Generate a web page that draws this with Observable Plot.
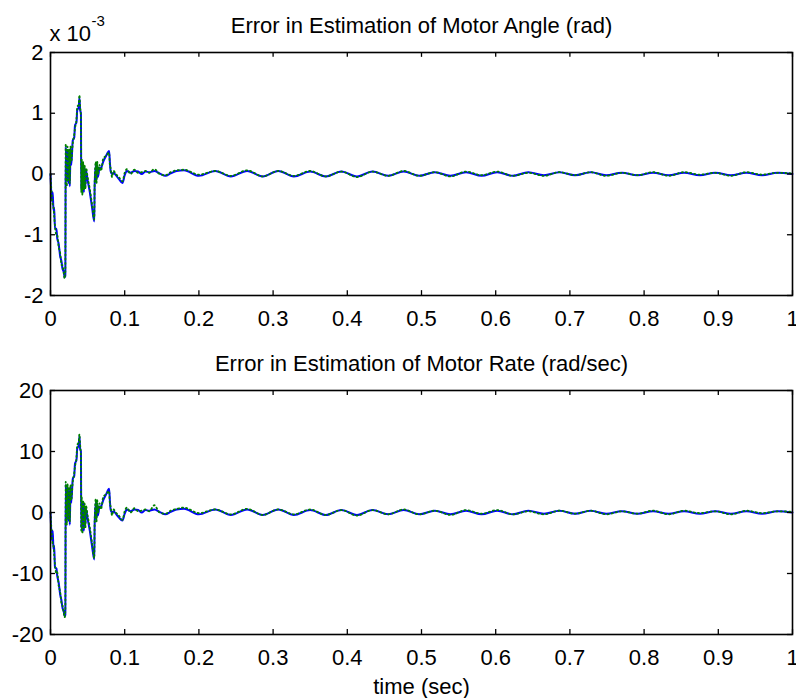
<!DOCTYPE html>
<html>
<head>
<meta charset="utf-8">
<script src="https://cdn.jsdelivr.net/npm/d3@7"></script>
<script src="https://cdn.jsdelivr.net/npm/@observablehq/plot@0.6"></script>
<style>
  html, body { margin: 0; padding: 0; background: #fff; }
  #chart svg { display: block; }
</style>
</head>
<body>
<div id="chart"></div>
<script>
// Shared time axis (sec)
const time = [
  0, .002, .003, .004, .005, .006, .008, .009, .011, .013,
  .015, .016, .018, .019, .020, .0205, .022, .023, .024, .025,
  .026, .027, .028, .030, .032, .033, .035, .036, .038, .039,
  .040, .041, .0415, .042, .043, .044, .045, .046, .047, .048,
  .050, .053, .056, .059, .0595, .061, .062, .063, .064, .066,
  .068, .071, .075, .079, .080, .081, .083, .085, .088, .092,
  .097, .100, .103, .108, .113, .118, .123, .128, .133, .140,
  .147, .155, .162, .170, .180, .200, .222, .243, .265, .286,
  .307, .328, .350, .371, .392, .413, .434, .455, .476, .497,
  .518, .539, .560, .581, .602, .623, .644, .665, .686, .707,
  .728, .749, .770, .791, .812, .833, .854, .875, .896, .917,
  .938, .959, .980, 1.000
];
// Motor angle error (x 10^-3 rad): blue solid and green dotted
const angleBlue = [
  0, -.45, -.30, -.60, -.55, -.90, -.90, -1.05, -1.15, -1.35,
  -1.45, -1.55, -1.62, -1.70, -1.68, .45, -.10, .40, -.15, .35,
  -.20, .40, .15, .55, .60, .80, .85, 1.05, 1.10, 1.25,
  1.05, 1.00, -.25, .20, -.30, .15, -.30, .10, -.20, .05,
  -.10, -.30, -.55, -.78, -.20, .15, -.10, .15, -.05, .10,
  .10, .20, .30, .38, .20, .05, 0, .02, -.02, -.08,
  -.15, -.02, .05, .02, .05, .04, 0, .04, .03, .05,
  .01, -.03, .01, .05, .06, -.03, .05, -.04, .05, -.04,
  .05, -.04, .04, -.04, .04, -.04, .04, -.03, .04, -.03,
  .03, -.03, .03, -.03, .03, -.03, .03, -.02, .03, -.02,
  .03, -.02, .02, -.02, .02, -.02, .02, -.02, .02, -.02,
  .02, -.02, .02, 0
];
const angleGreen = [
  0, -.40, -.50, -.55, -.70, -.85, -1.0, -1.0, -1.20, -1.30,
  -1.50, -1.50, -1.65, -1.72, -1.60, .50, -.20, .45, -.10, .40,
  -.15, .45, .20, .50, .65, .75, .90, 1.10, 1.15, 1.30,
  1.10, .95, -.30, .25, -.35, .20, -.25, .15, -.25, .10,
  -.05, -.25, -.50, -.75, -.15, .20, -.15, .20, 0, .15,
  .05, .25, .30, .35, .15, .10, -.05, .05, 0, -.05,
  -.12, .02, .08, 0, .07, .02, .03, .05, .02, .08,
  0, -.02, .03, .06, .07, -.01, .05, -.03, .06, -.04,
  .05, -.03, .05, -.04, .04, -.05, .04, -.03, .05, -.03,
  .03, -.04, .04, -.02, .04, -.03, .02, -.03, .03, -.02,
  .03, -.03, .02, -.02, .03, -.03, .03, -.01, .02, -.03,
  .03, -.01, .02, .01
];
// Motor rate error (rad/sec): blue solid and green dotted
const rateBlue = [
  0, -4.6, -3.0, -6.0, -5.4, -9.0, -9.2, -10.3, -11.5, -13.4,
  -14.6, -15.5, -16.3, -17.0, -16.8, 4.6, -1.2, 4.1, -1.4, 3.6,
  -2.0, 4.0, 1.6, 5.5, 6.0, 8.0, 8.6, 10.4, 11.0, 12.5,
  10.4, 10.0, -2.6, 2.0, -3.1, 1.6, -3.0, 1.0, -2.0, 0.5,
  -1.0, -3.0, -5.5, -7.7, -2.0, 1.6, -1.0, 1.5, -0.5, 1.0,
  1.0, 2.0, 3.0, 3.9, 2.0, 0.5, 0.0, 0.2, -0.2, -0.8,
  -1.3, -0.2, 0.5, 0.2, 0.5, 0.4, 0.0, 0.4, 0.3, 0.5,
  0.1, -0.3, 0.1, 0.5, 0.6, -0.3, 0.5, -0.4, 0.5, -0.4,
  0.5, -0.4, 0.4, -0.4, 0.4, -0.4, 0.4, -0.3, 0.4, -0.3,
  0.3, -0.3, 0.3, -0.3, 0.3, -0.3, 0.3, -0.2, 0.3, -0.2,
  0.3, -0.2, 0.2, -0.2, 0.2, -0.2, 0.2, -0.2, 0.2, -0.2,
  0.2, -0.2, 0.2, 0.0
];
const rateGreen = [
  0, -4.0, -5.2, -5.5, -7.0, -8.5, -10.0, -9.8, -12.0, -13.0,
  -15.0, -15.2, -16.6, -17.2, -16.0, 5.0, -2.0, 4.6, -1.0, 4.2,
  -1.5, 4.6, 2.0, 5.0, 6.5, 7.5, 9.0, 11.0, 11.6, 12.8,
  11.0, 9.5, -3.2, 2.5, -3.5, 2.0, -2.5, 1.5, -2.5, 1.0,
  -0.5, -2.5, -5.0, -7.5, -1.5, 2.2, -1.5, 2.0, 0.0, 1.5,
  0.5, 2.5, 3.0, 3.5, 1.5, 1.0, -0.5, 0.5, 0.0, -0.5,
  -1.2, 0.2, 0.8, 0.0, 0.7, 0.2, 0.3, 0.5, 0.2, 1.2,
  0.0, -0.2, 0.3, 0.6, 0.8, -0.1, 0.5, -0.3, 0.6, -0.4,
  0.5, -0.3, 0.5, -0.4, 0.4, -0.5, 0.4, -0.3, 0.5, -0.3,
  0.3, -0.4, 0.4, -0.2, 0.4, -0.3, 0.2, -0.3, 0.3, -0.2,
  0.3, -0.3, 0.2, -0.2, 0.3, -0.3, 0.3, -0.1, 0.2, -0.3,
  0.3, -0.1, 0.2, 0.1
];
const xTicks = [0, 0.1, 0.2, 0.3, 0.4, 0.5, 0.6, 0.7, 0.8, 0.9, 1];
const angleTicks = [-2, -1, 0, 1, 2];
const rateTicks = [-20, -10, 0, 10, 20];
const angleTitle = "Error in Estimation of Motor Angle (rad)";
const rateTitle = "Error in Estimation of Motor Rate (rad/sec)";
const xLabel = "time (sec)";
const angleExponent = ["x 10", "-3"];

const FONT = "'Liberation Sans', Arial, Helvetica, sans-serif";
const FS = 22;

function panel({values1, values2, yTicks, title, height, marginTop, marginBottom, extra}) {
  const ymin = yTicks[0], ymax = yTicks[yTicks.length - 1];
  const tickLenY = (ymax - ymin) * 0.02;
  const tickLenX = 0.0068;
  const rows1 = time.map((t, i) => ({t, v: values1[i]}));
  const rows2 = time.map((t, i) => ({t, v: values2[i]}));
  return Plot.plot({
    width: 796,
    height,
    marginTop,
    marginBottom,
    marginLeft: 50,
    marginRight: 4,
    style: {fontFamily: FONT, fontSize: FS + "px", background: "white", color: "black", overflow: "visible"},
    x: {domain: [0, 1], axis: null, label: null},
    y: {domain: [ymin, ymax], axis: null, label: null},
    marks: [
      Plot.line(rows1, {x: "t", y: "v", stroke: "#0000ff", strokeWidth: 2, curve: "monotone-x"}),
      Plot.line(rows2, {x: "t", y: "v", stroke: "#008000", strokeWidth: 1.8, strokeDasharray: "1.2,3", curve: "monotone-x"}),
      Plot.ruleX(xTicks, {x: d => d, y1: ymin, y2: ymin + tickLenY, stroke: "black", strokeWidth: 1.3}),
      Plot.ruleX(xTicks, {x: d => d, y1: ymax, y2: ymax - tickLenY, stroke: "black", strokeWidth: 1.3}),
      Plot.ruleY(yTicks, {y: d => d, x1: 0, x2: tickLenX, stroke: "black", strokeWidth: 1.3}),
      Plot.ruleY(yTicks, {y: d => d, x1: 1, x2: 1 - tickLenX, stroke: "black", strokeWidth: 1.3}),
      Plot.frame({stroke: "black", strokeWidth: 1.6}),
      Plot.axisX(xTicks, {anchor: "bottom", label: null, tickSize: 0, tickPadding: 15, tickFormat: d => String(d), fontSize: FS}),
      Plot.axisY(yTicks, {anchor: "left", label: null, tickSize: 0, tickPadding: 7, tickFormat: d => String(d), fontSize: FS}),
      Plot.text([title], {text: d => d, frameAnchor: "top", lineAnchor: "middle", dy: -26.5, fontSize: FS}),
      ...(extra || [])
    ]
  });
}

const topPanel = panel({
  values1: angleBlue, values2: angleGreen, yTicks: angleTicks, title: angleTitle,
  height: 345, marginTop: 52, marginBottom: 50,
  extra: [
    Plot.text([angleExponent[0]], {text: d => d, frameAnchor: "top-left", textAnchor: "start", lineAnchor: "middle", dx: -1, dy: -18.5, fontSize: FS}),
    Plot.text([angleExponent[1]], {text: d => d, frameAnchor: "top-left", textAnchor: "start", lineAnchor: "middle", dx: 41, dy: -31, fontSize: 15})
  ]
});
const bottomPanel = panel({
  values1: rateBlue, values2: rateGreen, yTicks: rateTicks, title: rateTitle,
  height: 353, marginTop: 45, marginBottom: 64,
  extra: [
    Plot.text([xLabel], {text: d => d, frameAnchor: "bottom", lineAnchor: "middle", dy: 52, fontSize: FS})
  ]
});
document.getElementById("chart").append(topPanel, bottomPanel);
</script>
</body>
</html>
